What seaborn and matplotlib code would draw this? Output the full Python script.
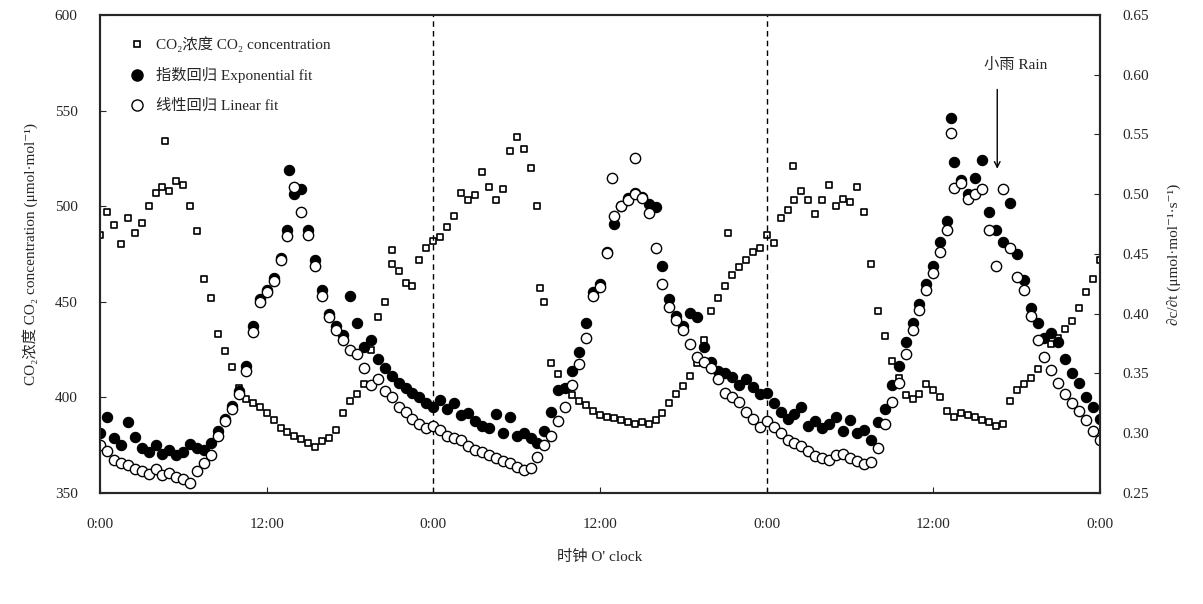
import numpy as np
import pandas as pd
import matplotlib.pyplot as plt
import seaborn as sns
from matplotlib.lines import Line2D

# sampling schedule: every half hour over three days
hours = np.arange(0, 72.5, 0.5)

# CO2 concentration (umol/mol), left axis
co2 = [485, 497, 490, 480, 494, 486, 491, 500, 507, 510, 508, 513, 511, 500, 487, 462,
       452, 433, 424, 416, 405, 399, 397, 395, 392, 388, 384, 382, 380, 378, 376, 374,
       377, 379, 383, 392, 398, 402, 407, 425, 442, 450, 470, 466, 460, 458, 472, 478,
       482, 484, 489, 495, 507, 503, 506, 518, 510, 503, 509, 529, 536, 530, 520, 500,
       450, 418, 412, 405, 401, 398, 396, 393, 391, 390, 389, 388, 387, 386, 387, 386,
       388, 392, 397, 402, 406, 411, 418, 430, 445, 452, 458, 464, 468, 472, 476, 478,
       485, 481, 494, 498, 503, 508, 503, 496, 503, 511, 500, 504, 502, 510, 497, 470,
       445, 432, 419, 410, 401, 399, 402, 407, 404, 400, 393, 390, 392, 391, 390, 388,
       387, 385, 386, 398, 404, 407, 410, 415, 421, 428, 431, 436, 440, 447, 455, 462,
       472]
co2_extra_hours = [4.7, 21.0, 31.7, 49.9, 45.2]
co2_extra = [534, 477, 457, 521, 486]

# exponential fit (right axis)
exp_fit = [0.300, 0.314, 0.296, 0.290, 0.309, 0.297, 0.288, 0.284, 0.290, 0.283, 0.286, 0.282,
           0.284, 0.291, 0.288, 0.286, 0.292, 0.302, 0.312, 0.323, 0.335, 0.356, 0.390, 0.412,
           0.420, 0.430, 0.447, 0.470, 0.500, 0.504, 0.470, 0.445, 0.420, 0.400, 0.390, 0.382,
           0.415, 0.392, 0.372, 0.378, 0.362, 0.355, 0.348, 0.342, 0.338, 0.334, 0.330, 0.325,
           0.322, 0.328, 0.320, 0.325, 0.315, 0.317, 0.310, 0.306, 0.304, 0.316, 0.300, 0.314,
           0.298, 0.300, 0.296, 0.292, 0.302, 0.318, 0.336, 0.338, 0.352, 0.368, 0.392, 0.418,
           0.425, 0.452, 0.475, 0.490, 0.497, 0.501, 0.498, 0.492, 0.489, 0.440, 0.412, 0.398,
           0.390, 0.401, 0.397, 0.372, 0.360, 0.352, 0.350, 0.347, 0.340, 0.345, 0.339, 0.333,
           0.334, 0.325, 0.318, 0.312, 0.316, 0.322, 0.306, 0.310, 0.304, 0.308, 0.314, 0.302,
           0.311, 0.300, 0.303, 0.294, 0.309, 0.320, 0.340, 0.356, 0.376, 0.392, 0.408, 0.425,
           0.440, 0.460, 0.478, 0.527, 0.512, 0.500, 0.514, 0.529, 0.485, 0.470, 0.460, 0.493,
           0.450, 0.428, 0.405, 0.392, 0.380, 0.384, 0.376, 0.362, 0.350, 0.342, 0.330, 0.322,
           0.312]
exp_extra_hours = [13.6, 61.3]
exp_extra = [0.520, 0.564]

# linear fit (right axis)
lin_fit = [0.290, 0.285, 0.278, 0.275, 0.273, 0.270, 0.268, 0.266, 0.270, 0.265, 0.267, 0.263,
           0.262, 0.258, 0.268, 0.275, 0.282, 0.298, 0.310, 0.320, 0.333, 0.352, 0.385, 0.410,
           0.418, 0.427, 0.445, 0.465, 0.506, 0.485, 0.466, 0.440, 0.415, 0.397, 0.386, 0.378,
           0.370, 0.366, 0.355, 0.340, 0.345, 0.335, 0.330, 0.322, 0.318, 0.312, 0.308, 0.304,
           0.306, 0.303, 0.298, 0.296, 0.294, 0.289, 0.286, 0.284, 0.282, 0.279, 0.277, 0.275,
           0.272, 0.269, 0.271, 0.280, 0.290, 0.298, 0.310, 0.322, 0.340, 0.358, 0.380, 0.415,
           0.422, 0.451, 0.482, 0.490, 0.495, 0.500, 0.497, 0.484, 0.455, 0.425, 0.406, 0.395,
           0.386, 0.375, 0.364, 0.360, 0.355, 0.345, 0.334, 0.330, 0.326, 0.318, 0.312, 0.305,
           0.310, 0.305, 0.300, 0.294, 0.292, 0.289, 0.285, 0.281, 0.279, 0.278, 0.282, 0.283,
           0.279, 0.277, 0.274, 0.276, 0.288, 0.308, 0.326, 0.342, 0.366, 0.386, 0.403, 0.420,
           0.434, 0.452, 0.470, 0.505, 0.509, 0.496, 0.500, 0.504, 0.470, 0.440, 0.504, 0.455,
           0.431, 0.420, 0.398, 0.378, 0.364, 0.353, 0.342, 0.333, 0.325, 0.319, 0.311, 0.302,
           0.294]
lin_extra_hours = [36.9, 38.5, 61.3]
lin_extra = [0.514, 0.530, 0.551]

xticks = [0, 12, 24, 36, 48, 60, 72]
xticklabels = ['0:00', '12:00', '0:00', '12:00', '0:00', '12:00', '0:00']
legend_labels = ['CO₂浓度 CO₂ concentration', '指数回归 Exponential fit', '线性回归 Linear fit']

sns.set_style('ticks')
plt.rcParams['font.family'] = ['Liberation Serif', 'DejaVu Serif', 'Noto Sans CJK SC']
plt.rcParams['axes.linewidth'] = 1.5

co2_df = pd.DataFrame({'h': list(hours) + co2_extra_hours, 'v': co2 + co2_extra})
exp_df = pd.DataFrame({'h': list(hours) + exp_extra_hours, 'v': exp_fit + exp_extra})
lin_df = pd.DataFrame({'h': list(hours) + lin_extra_hours, 'v': lin_fit + lin_extra})

fig = plt.figure(figsize=(12.03, 6.04), dpi=100)
ax = fig.add_axes([0.0831, 0.1838, 0.8313, 0.7914])
ax2 = ax.twinx()

sns.scatterplot(data=co2_df, x='h', y='v', ax=ax, marker='s', s=24,
                facecolor='white', edgecolor='black', linewidth=1.2)
sns.scatterplot(data=exp_df, x='h', y='v', ax=ax2, marker='o', s=55,
                color='black', edgecolor='black', linewidth=0.8)
sns.scatterplot(data=lin_df, x='h', y='v', ax=ax2, marker='o', s=55,
                facecolor='white', edgecolor='black', linewidth=1.0)

for d in [24, 48]:
    ax.axvline(d, color='black', lw=1, ls=(0, (4, 3)))

ax.set_xlim(0, 72)
ax.set_ylim(350, 600)
ax2.set_ylim(0.25, 0.65)
ax.set_xticks(xticks)
ax.set_xticklabels(xticklabels)
ax.set_yticks([350, 400, 450, 500, 550, 600])
ax2.set_yticks([0.25, 0.30, 0.35, 0.40, 0.45, 0.50, 0.55, 0.60, 0.65])
ax2.set_yticklabels([f'{v:.2f}' for v in ax2.get_yticks()])

ax.tick_params(axis='x', direction='in', pad=18, labelsize=11, length=4)
ax.tick_params(axis='y', direction='in', pad=16, labelsize=11, length=4)
ax2.tick_params(axis='y', direction='in', pad=16, labelsize=11, length=4)

ax.set_xlabel("时钟 O' clock", fontsize=11, labelpad=14)
ax.set_ylabel('CO₂浓度 CO₂ concentration (μmol·mol⁻¹)', fontsize=11, labelpad=12)
ax2.set_ylabel('∂c/∂t (μmol·mol⁻¹·s⁻¹)', fontsize=11, labelpad=14)

# rain marker
ax2.annotate('', xy=(64.6, 0.519), xytext=(64.6, 0.590),
             arrowprops=dict(arrowstyle='->', color='black', lw=1))
ax2.text(65.9, 0.608, '小雨 Rain', ha='center', va='center', fontsize=11)

handles = [
    Line2D([], [], ls='', marker='s', ms=5, mfc='white', mec='black', mew=1.2),
    Line2D([], [], ls='', marker='o', ms=8, mfc='black', mec='black'),
    Line2D([], [], ls='', marker='o', ms=8, mfc='white', mec='black', mew=1),
]
ax2.legend(handles, legend_labels, loc='upper left', frameon=False, fontsize=11,
           handletextpad=0.3, labelspacing=1.0, borderaxespad=1.0)

fig.savefig('out.png', dpi=100)
